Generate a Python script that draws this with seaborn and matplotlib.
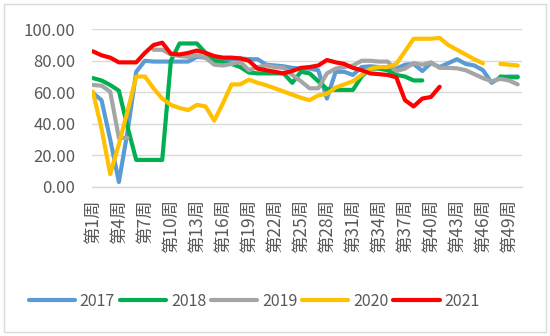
import numpy as np
import pandas as pd
import matplotlib
matplotlib.use("Agg")
import matplotlib.pyplot as plt
import seaborn as sns
from matplotlib.patches import Rectangle

nan = np.nan
weeks = list(range(1, 51))
years = ["2017", "2018", "2019", "2020", "2021"]

v2017 = [59.5, 55, 30, 3, 35, 73, 80, 79.5, 79.5, 79.5,
         79.5, 79.5, 82.5, 82, 81, 80.5, 81, 81.5, 81, 81,
         77.5, 77, 76.5, 75.5, 75, 75, 74, 56, 73, 73,
         71, 76, 76.5, 76, 76, 75, 77.5, 78, 73.5, 78.5,
         76, 78.5, 81, 78, 77, 74, 66, 69.5, 70, 70]
v2018 = [69, 67.5, 64.6, 61, 38, 17, 17, 17, 17, 80,
         91, 91, 91, 85, 80, 79, 78, 76, 72.5, 72,
         72, 72, 72, 66, 73, 72, 67, 62, 61.5, 61.5,
         61.5, 70, 75, 75, 74, 71, 70, 67.5, 67.5, nan,
         nan, nan, nan, nan, nan, nan, nan, 70, 69.5, 69.5]
v2019 = [64.6, 64.2, 60.4, 31, 31, nan, nan, 87, 87, 84,
         83, 82.5, 83.5, 82, 77.5, 77, 78, 79.4, 74, 76,
         77, 76, 75.5, 71, 67, 62.5, 62.5, 72, 75, 76,
         77, 80, 80, 79.5, 79.5, 73.5, 75, 78.5, 77.5, 79,
         75.5, 75.5, 75.2, 74, 71.5, 69, 67, 68.5, 67.5, 65]
v2020 = [60.4, 37, 8, 27, 48, 70, 70, 62.5, 56, 52,
         50, 48.7, 52, 51, 42, 53, 65, 65, 68, 66,
         64.5, 62.5, 60.5, 58.5, 56.5, 55, 58, 59, 63, 65,
         67, 71, 75, 76, 76, 78, 86, 94, 94, 94,
         94.5, 90, 87, 84, 81, 78.4, nan, 78, 77.5, 77]
v2021 = [86, 83.5, 82, 79, 79, 79, 85, 90, 91.5, 84.5,
         84, 85, 86.5, 85, 83, 82, 82, 81.5, 80, 75,
         74, 73, 72, 73.5, 75.5, 76, 77, 80.5, 79, 78,
         75.5, 74, 72, 71.5, 71, 69.5, 55, 51, 56, 57,
         63.5, nan, nan, nan, nan, nan, nan, nan, nan, nan]

series = [v2017, v2018, v2019, v2020, v2021]
colors = ["#5B9BD5", "#00B050", "#A5A5A5", "#FFC000", "#FF0000"]
tick_weeks = list(range(1, 50, 3))
tick_labels = [f"第{w}周" for w in tick_weeks]
ytick_vals = [0, 20, 40, 60, 80, 100]

rows = []
for yr, vals in zip(years, series):
    seg = 0
    for w, v in zip(weeks, vals):
        if v is None or (isinstance(v, float) and np.isnan(v)):
            seg += 1
            continue
        rows.append({"week": w - 1, "value": v, "year": yr, "seg": seg})
df = pd.DataFrame(rows)

sns.set_style("white")
plt.rcParams["font.family"] = ["Noto Sans CJK SC", "DejaVu Sans"]

fig = plt.figure(figsize=(5.5, 3.36), dpi=100)
ax = fig.add_axes([92/550, 1-186.7/336, 430/550, (186.7-29.3)/336])

sns.lineplot(data=df, x="week", y="value", hue="year", units="seg",
             estimator=None, palette=dict(zip(years, colors)),
             hue_order=years, linewidth=3.0, ax=ax, legend=True)
for ln in ax.lines:
    ln.set_solid_capstyle("round")
    ln.set_solid_joinstyle("round")

ax.set_xlim(-0.1, 49.5)
ax.set_ylim(0, 100)
ax.set_yticks(ytick_vals)
ax.set_yticklabels([f"{v:.2f}" for v in ytick_vals])
ax.set_xticks([w - 1 for w in tick_weeks])
ax.set_xticklabels(tick_labels, rotation=90)
ax.tick_params(axis="x", length=0, pad=9, labelsize=12.5, colors="#595959")
ax.tick_params(axis="y", length=0, pad=12, labelsize=12, colors="#595959")
ax.grid(axis="y", color="#D9D9D9", linewidth=1)
ax.set_axisbelow(True)
ax.set_xlabel("")
ax.set_ylabel("")
for s in ["left", "right", "top"]:
    ax.spines[s].set_visible(False)
ax.spines["bottom"].set_color("#D9D9D9")
ax.spines["bottom"].set_linewidth(1)

handles, labels = ax.get_legend_handles_labels()
ax.get_legend().remove()
leg = fig.legend(handles, labels, loc="center", bbox_to_anchor=(0.462, 1-301/336),
                 ncol=5, frameon=False, fontsize=11.5, handlelength=2.9,
                 handletextpad=0.3, columnspacing=0.3, labelcolor="#595959")
for h in leg.get_lines():
    h.set_linewidth(3.0)
    h.set_solid_capstyle("round")

fig.patches.append(Rectangle((4/550, 4/336), 542/550, 328/336, transform=fig.transFigure,
                             fill=False, edgecolor="#D9D9D9", linewidth=1))

fig.savefig("out.png", dpi=100)
